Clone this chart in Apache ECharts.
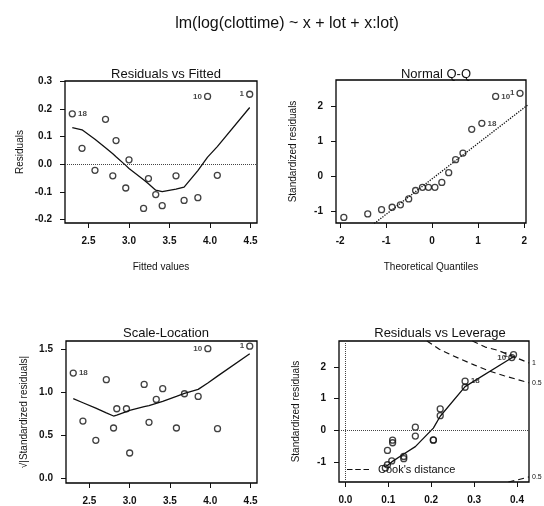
<!DOCTYPE html>
<html>
<head>
<meta charset="utf-8">
<script src="https://cdn.jsdelivr.net/npm/echarts@6/dist/echarts.min.js"></script>
<style>
html, body { margin: 0; padding: 0; background: #fff; }
#chart { width: 544px; height: 506px; }
</style>
</head>
<body>
<div id="chart"></div>
<script>
// lm diagnostics: residuals vs fitted, Q-Q, scale-location, leverage
const mainTitle = 'lm(log(clottime) ~ x + lot + x:lot)';

// fitted values (sorted), shared by panels 1 and 3
const fittedVals = [2.30, 2.42, 2.58, 2.71, 2.80, 2.84, 2.96, 3.00, 3.18, 3.24, 3.33, 3.41, 3.58, 3.68, 3.85, 3.97, 4.09, 4.49];
const residVals = [0.183, 0.058, -0.022, 0.163, -0.042, 0.086, -0.086, 0.016, -0.160, -0.052, -0.110, -0.150, -0.042, -0.131, -0.121, 0.246, -0.040, 0.254];
const residSmooth = [0.133, 0.125, 0.091, 0.060, 0.038, 0.027, -0.004, -0.015, -0.056, -0.071, -0.094, -0.099, -0.090, -0.083, -0.023, 0.026, 0.064, 0.206];
const fitIds = ['18', '', '', '', '', '', '', '', '', '', '', '', '', '', '', '10', '', '1'];

const sqrtStdResid = [1.226, 0.665, 0.44, 1.148, 0.584, 0.809, 0.809, 0.292, 1.093, 0.65, 0.918, 1.043, 0.584, 0.984, 0.953, 1.51, 0.576, 1.54];
const sqrtSmooth = [0.926, 0.879, 0.816, 0.760, 0.724, 0.735, 0.776, 0.790, 0.833, 0.846, 0.872, 0.894, 0.953, 0.989, 1.035, 1.110, 1.190, 1.451];

// normal Q-Q
const theoQuant = [-1.92, -1.40, -1.10, -0.87, -0.69, -0.51, -0.36, -0.21, -0.08, 0.06, 0.21, 0.36, 0.51, 0.67, 0.86, 1.08, 1.38, 1.91];
const stdResidSorted = [-1.17, -1.07, -0.95, -0.88, -0.81, -0.64, -0.40, -0.31, -0.31, -0.31, -0.17, 0.11, 0.48, 0.67, 1.35, 1.52, 2.29, 2.38];
const qqIds = ['', '', '', '', '', '', '', '', '', '', '', '', '', '', '', '18', '10', '1'];
const qqLineX = [-2.2, 2.2];
const qqLineY = [-2.30, 2.17];

// residuals vs leverage
const levVals = [0.093, 0.098, 0.108, 0.136, 0.136, 0.098, 0.110, 0.110, 0.205, 0.205, 0.163, 0.163, 0.221, 0.221, 0.279, 0.279, 0.388, 0.392];
const levStdResid = [-1.17, -1.07, -0.95, -0.88, -0.81, -0.62, -0.38, -0.30, -0.30, -0.29, -0.17, 0.11, 0.47, 0.68, 1.36, 1.55, 2.29, 2.38];
const levIds = ['', '', '', '', '', '', '', '', '', '', '', '', '', '', '', '18', '10', '1'];
const levSmoothX = [0.093, 0.098, 0.108, 0.110, 0.136, 0.163, 0.205, 0.221, 0.279, 0.390];
const levSmoothY = [-1.13, -1.09, -0.98, -0.95, -0.73, -0.50, 0.08, 0.45, 1.38, 2.30];
const cookHalfX = [0.190, 0.218, 0.250, 0.300, 0.335, 0.370, 0.428];
const cookHalfY = [2.81, 2.56, 2.35, 2.06, 1.87, 1.72, 1.50];
const cookOneX = [0.296, 0.326, 0.355, 0.390, 0.428];
const cookOneY = [2.81, 2.62, 2.52, 2.33, 2.12];
const cookHalfLowX = [0.380, 0.400, 0.428];
const cookHalfLowY = [-1.61, -1.55, -1.45];

// tick labels
const fitTicks = [2.5, 3.0, 3.5, 4.0, 4.5];
const residTicks = [-0.2, -0.1, 0.0, 0.1, 0.2, 0.3];
const qqXTicks = [-2, -1, 0, 1, 2];
const qqYTicks = [-1, 0, 1, 2];
const slTicks = [0.0, 0.5, 1.0, 1.5];
const levXTicks = [0.0, 0.1, 0.2, 0.3, 0.4];
const levYTicks = [-1, 0, 1, 2];

const font = '"Liberation Sans", Arial, Helvetica, sans-serif';
const ink = '#111';

function xyData(xs, ys) {
    return xs.map((x, i) => [x, ys[i]]);
}

function pointData(xs, ys, ids, sides) {
    return xs.map((x, i) => {
        const item = { value: [x, ys[i]] };
        if (ids[i]) {
            item.label = { show: true, formatter: ids[i], position: sides[ids[i]] };
        }
        return item;
    });
}

function makeAxis(gi, min, max, ticks, digits, name, gap) {
    return {
        type: 'value', gridIndex: gi, min: min, max: max,
        splitLine: { show: false },
        axisLine: { show: false, onZero: false },
        axisTick: { show: true, length: 5, customValues: ticks, lineStyle: { color: ink, width: 1 } },
        axisLabel: {
            customValues: ticks,
            formatter: v => v.toFixed(digits),
            fontSize: 10, fontWeight: 'bold', color: ink, fontFamily: font,
            margin: 13
        },
        name: name,
        nameLocation: 'middle',
        nameGap: gap,
        nameTextStyle: { fontSize: 10, color: ink, fontFamily: font }
    };
}

function scatterSeries(gi, data) {
    return {
        type: 'scatter', xAxisIndex: gi, yAxisIndex: gi,
        symbol: 'circle', symbolSize: 6,
        itemStyle: { color: 'rgba(0,0,0,0)', borderColor: ink, borderWidth: 1.3 },
        label: { fontSize: 8, fontWeight: 'bold', color: ink, fontFamily: font, distance: 2 },
        data: data, z: 3
    };
}

function lineSeries(gi, data, extra) {
    return Object.assign({
        type: 'line', xAxisIndex: gi, yAxisIndex: gi,
        symbol: 'none', silent: true,
        itemStyle: { color: ink },
        lineStyle: { color: ink, width: 1.3 },
        data: data
    }, extra || {});
}

function zeroLines(list) {
    return {
        silent: true, symbol: 'none',
        lineStyle: { type: 'dotted', color: '#444', width: 1 },
        label: { show: false },
        data: list
    };
}

function cookSeries(xs, ys, tag) {
    return lineSeries(3, xyData(xs, ys), {
        name: "Cook's distance",
        lineStyle: { color: ink, width: 1.2, type: [6, 4] },
        endLabel: { show: true, formatter: tag, fontSize: 7, color: ink, fontFamily: font, distance: 3 }
    });
}

const titleStyle = { fontSize: 13, fontWeight: 'normal', color: ink, fontFamily: font };
const sidesFit = { '18': 'right', '10': 'left', '1': 'left' };
const sidesQQ = { '18': 'right', '10': 'right', '1': 'left' };

const chart = echarts.init(document.getElementById('chart'));
chart.setOption({
    animation: false,
    backgroundColor: '#fff',
    title: [
        { text: mainTitle, left: 282, top: 11, textAlign: 'center', textStyle: { fontSize: 16, fontWeight: 'normal', color: ink, fontFamily: font } },
        { text: 'Residuals vs Fitted', left: 161, top: 63, textAlign: 'center', textStyle: titleStyle },
        { text: 'Normal Q-Q', left: 431, top: 63, textAlign: 'center', textStyle: titleStyle },
        { text: 'Scale-Location', left: 161, top: 322, textAlign: 'center', textStyle: titleStyle },
        { text: 'Residuals vs Leverage', left: 435, top: 322, textAlign: 'center', textStyle: titleStyle }
    ],
    legend: {
        data: [{ name: "Cook's distance", icon: 'path://M0 0h6v1.3H0z M9 0h6v1.3H9z M18 0h6v1.3H18z' }],
        left: 347, top: 464, padding: 0,
        itemWidth: 22, itemHeight: 1.5, itemGap: 5,
        itemStyle: { color: ink },
        textStyle: { fontSize: 11, color: ink, fontFamily: font, padding: [0, 0, 0, 4] }
    },
    grid: [
        { left: 65, top: 81, width: 192, height: 142 },
        { left: 336, top: 80, width: 190, height: 143 },
        { left: 66, top: 341, width: 191, height: 142 },
        { left: 339, top: 341, width: 190, height: 141 }
    ].map(g => Object.assign({ show: true, borderColor: '#000', borderWidth: 1.3, backgroundColor: 'transparent' }, g)),
    xAxis: [
        makeAxis(0, 2.21, 4.58, fitTicks, 1, 'Fitted values', 39),
        makeAxis(1, -2.09, 2.04, qqXTicks, 0, 'Theoretical Quantiles', 39),
        makeAxis(2, 2.21, 4.58, fitTicks, 1, '', 39),
        makeAxis(3, -0.015, 0.428, levXTicks, 1, '', 39)
    ],
    yAxis: [
        makeAxis(0, -0.213, 0.302, residTicks, 1, 'Residuals', 40),
        makeAxis(1, -1.33, 2.76, qqYTicks, 0, 'Standardized residuals', 38),
        makeAxis(2, -0.058, 1.60, slTicks, 1, '\u221A|Standardized residuals|', 37),
        makeAxis(3, -1.61, 2.81, levYTicks, 0, 'Standardized residuals', 38)
    ],
    series: [
        Object.assign(scatterSeries(0, pointData(fittedVals, residVals, fitIds, sidesFit)), {
            markLine: zeroLines([{ yAxis: 0 }])
        }),
        lineSeries(0, xyData(fittedVals, residSmooth)),

        scatterSeries(1, pointData(theoQuant, stdResidSorted, qqIds, sidesQQ)),
        lineSeries(1, xyData(qqLineX, qqLineY), { lineStyle: { color: ink, width: 1.3, type: 'dotted' } }),

        scatterSeries(2, pointData(fittedVals, sqrtStdResid, fitIds, sidesFit)),
        lineSeries(2, xyData(fittedVals, sqrtSmooth)),

        Object.assign(scatterSeries(3, pointData(levVals, levStdResid, levIds, sidesFit)), {
            markLine: zeroLines([{ xAxis: 0 }, { yAxis: 0 }])
        }),
        lineSeries(3, xyData(levSmoothX, levSmoothY)),
        cookSeries(cookHalfX, cookHalfY, '0.5'),
        cookSeries(cookOneX, cookOneY, '1'),
        cookSeries(cookHalfLowX, cookHalfLowY, '0.5')
    ]
});
</script>
</body>
</html>
